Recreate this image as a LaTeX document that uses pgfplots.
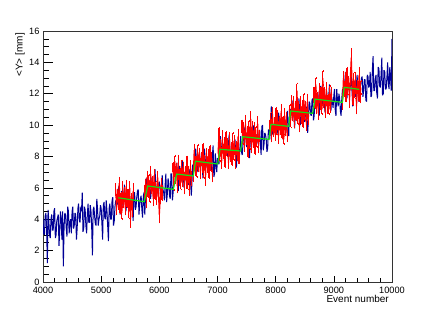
\documentclass[border=0pt]{standalone}
\usepackage{fontspec}
\setmainfont{Liberation Sans}
\usepackage{pgfplots}
\pgfplotsset{compat=1.18}
\definecolor{rootblue}{RGB}{0,0,150}
\definecolor{rootgreen}{RGB}{20,225,20}
\begin{document}
\begin{tikzpicture}
\path[use as bounding box] (0,0) rectangle (436bp,314bp);
\begin{axis}[
  at={(43bp,32bp)}, anchor=south west,
  scale only axis, width=349bp, height=251bp,
  xmin=4000, xmax=10000, ymin=0, ymax=16,
  xtick={4000,5000,...,10000}, ytick={0,2,...,16},
  minor x tick num=4, minor y tick num=3,
  tick align=inside, tick pos=left,
  x tick style={/pgfplots/major tick length=6bp,/pgfplots/minor tick length=3.5bp},
  y tick style={/pgfplots/major tick length=10bp,/pgfplots/minor tick length=5.5bp},
  tick style={black, line width=0.6bp},
  axis line style={black!80, line width=0.8bp},
  scaled x ticks=false,
  /pgf/number format/1000 sep={},
  /pgf/number format/assume math mode=true,
  ticklabel style={font=\fontsize{9.2bp}{10bp}\selectfont},
  xticklabel style={yshift=-1.2bp},
  xlabel={Event number},
  xlabel style={at={(axis description cs:1,0)}, anchor=north east, inner sep=0pt, yshift=-13bp, xshift=-3bp, font=\fontsize{10bp}{11bp}\selectfont},
  ylabel={<Y> [mm]},
  ylabel style={at={(axis description cs:-0.066,0.992)}, anchor=east, inner sep=0pt, font=\fontsize{10bp}{11bp}\selectfont},
  clip=true,
]
% blue series
\addplot[rootblue, line width=1.0bp, line join=bevel, mark=none] table[x=x,y=y] {
x y
4000 4.0
4012 3.1
4025 3.0
4037 4.2
4050 4.4
4062 3.4
4075 1.2
4087 4.6
4100 3.9
4112 3.0
4125 2.8
4137 4.0
4150 4.3
4162 3.3
4175 3.3
4187 4.5
4200 4.7
4212 2.8
4225 3.0
4237 3.9
4250 4.1
4262 4.3
4275 2.3
4287 3.2
4300 4.5
4312 4.0
4325 2.7
4337 4.5
4350 1.0
4362 3.5
4375 4.4
4387 4.3
4400 3.4
4412 2.9
4425 4.8
4437 4.5
4450 3.1
4462 3.8
4475 4.0
4487 3.1
4500 4.5
4512 4.8
4525 3.4
4537 3.6
4550 4.4
4562 4.3
4575 2.7
4587 3.4
4600 4.7
4612 5.0
4625 3.9
4637 3.8
4650 4.8
4662 4.5
4675 5.7
4687 3.2
4700 3.4
4712 4.8
4725 4.6
4737 3.6
4750 3.1
4762 4.3
4775 5.0
4787 3.8
4800 3.8
4812 4.9
4825 4.5
4837 3.5
4850 1.7
4862 4.6
4875 4.8
4887 4.2
4900 3.7
4912 3.6
4925 5.3
4937 4.7
4950 3.6
4962 4.0
4975 4.2
4987 4.9
5000 4.7
5012 3.8
5025 2.7
5037 4.9
5050 5.1
5062 4.1
5075 4.0
5087 5.2
5100 4.5
5112 3.6
5125 2.6
5137 4.7
5150 5.0
5162 4.0
5175 4.0
5187 5.2
5200 5.4
5212 3.6
5225 3.9
5237 4.8
5250 5.2
5275 4.9
5300 6.1
5325 4.3
5350 5.8
5375 4.8
5400 6.2
5425 4.5
5450 5.4
5475 5.9
5500 4.7
5525 5.6
5550 3.9
5562 5.7
5575 5.7
5587 4.6
5600 4.8
5612 5.4
5625 5.8
5637 5.9
5650 4.3
5662 4.9
5675 5.3
5687 5.5
5700 4.6
5712 4.1
5725 5.5
5737 5.7
5750 4.3
5775 6.6
5800 5.8
5825 6.4
5850 5.3
5875 6.7
5900 5.6
5925 7.2
5950 5.4
5975 6.0
6000 6.4
6025 5.4
6050 6.8
6062 5.9
6075 5.7
6087 5.2
6100 6.2
6112 6.9
6125 5.1
6137 5.6
6150 6.6
6162 6.3
6175 5.5
6187 5.3
6200 6.9
6212 6.9
6225 5.2
6237 5.7
6250 6.4
6275 6.3
6300 7.6
6325 5.8
6350 7.4
6375 6.4
6400 7.7
6425 6.0
6450 6.9
6475 7.4
6500 6.2
6525 7.2
6550 5.5
6575 7.5
6600 7.1
6625 8.5
6650 7.0
6675 7.9
6700 7.3
6725 8.2
6750 6.6
6775 8.5
6800 7.3
6825 7.9
6850 6.8
6875 8.2
6900 7.1
6912 8.1
6925 8.7
6937 6.7
6950 6.9
6962 8.2
6975 7.5
6987 7.0
7000 7.9
7025 7.5
7050 9.3
7075 8.2
7100 8.6
7125 7.5
7150 9.0
7175 8.0
7200 9.4
7225 7.7
7250 8.7
7275 8.2
7300 9.1
7325 7.3
7350 8.9
7375 7.9
7387 8.6
7400 9.3
7412 8.3
7425 8.1
7450 9.4
7475 9.9
7500 8.6
7525 9.6
7550 7.9
7575 9.9
7600 9.1
7625 10.0
7650 8.5
7675 9.4
7700 8.8
7712 9.4
7725 9.7
7737 8.8
7750 8.1
7762 9.9
7775 10.0
7787 8.4
7800 8.8
7812 9.5
7825 9.4
7837 9.1
7850 8.3
7862 8.5
7875 9.7
7887 9.7
7900 9.1
7925 11.2
7950 9.4
7975 10.0
8000 10.4
8025 9.4
8050 10.8
8075 9.7
8100 10.2
8125 9.1
8150 10.6
8175 9.5
8200 10.9
8212 9.7
8225 9.3
8237 11.0
8250 11.0
8275 10.7
8300 11.6
8325 9.8
8350 11.4
8375 10.4
8400 11.7
8425 10.0
8450 10.9
8475 11.4
8500 10.2
8525 11.2
8550 9.5
8562 10.3
8575 11.5
8587 11.4
8600 10.7
8612 10.6
8625 11.6
8637 11.7
8650 10.3
8662 10.6
8675 11.8
8700 11.3
8725 12.1
8750 10.6
8775 12.5
8800 11.3
8825 11.9
8850 10.8
8875 12.2
8900 11.1
8925 12.6
8950 10.9
8962 11.8
8975 11.5
8987 11.1
9000 11.9
9012 12.3
9025 10.9
9037 10.6
9050 12.3
9062 11.6
9075 11.2
9087 12.0
9100 11.7
9112 10.9
9125 10.6
9137 11.7
9150 12.3
9175 11.9
9200 13.4
9225 11.7
9250 12.7
9275 12.2
9300 13.1
9325 11.2
9350 12.8
9375 11.8
9400 13.2
9425 11.5
9450 12.4
9462 12.6
9475 13.0
9487 13.1
9500 11.8
9512 12.2
9525 12.9
9537 12.9
9550 11.6
9562 11.5
9575 13.2
9587 13.1
9600 12.4
9612 12.5
9625 13.4
9637 11.8
9650 11.9
9662 13.5
9675 14.4
9687 12.2
9700 12.2
9712 12.9
9725 13.2
9737 12.1
9750 11.7
9762 13.7
9775 13.6
9787 12.5
9800 12.4
9812 13.2
9825 14.3
9837 11.9
9850 12.0
9862 13.5
9875 13.4
9887 12.3
9900 12.3
9912 13.0
9925 14.0
9937 12.6
9950 12.3
9962 13.7
9975 13.1
9987 12.2
10000 15.5
};
% red blocks
\pgfplotsset{redblock/.style={red, line width=1.2bp, line join=bevel, mark=none,
  error bars/.cd, y dir=both, y explicit,
  error bar style={red, line width=1.15bp},
  error mark options={red, mark size=0.9bp, line width=0.45bp}}}
\addplot[redblock] table[x=x,y=y,y error=e] {
x y e
5250 5.9 0.35
5265 4.7 0.40
5280 5.6 0.30
5295 5.1 0.45
5310 6.3 0.35
5325 4.9 0.50
5340 5.4 0.30
5355 4.4 0.40
5370 5.9 0.45
5385 5.1 0.35
5400 5.7 0.30
5415 4.7 0.40
5430 6.1 0.35
5445 5.2 0.40
5460 5.6 0.30
5475 4.5 0.45
5490 6.0 0.35
5505 4.0 0.50
5520 5.3 0.30
5535 4.6 0.40
5550 5.8 0.45
};
\addplot[redblock] table[x=x,y=y,y error=e] {
x y e
5745 5.7 0.40
5760 6.2 0.30
5775 5.2 0.45
5790 6.7 0.35
5805 5.9 0.50
5820 6.5 0.30
5835 5.5 0.40
5850 6.9 0.45
5865 6.0 0.35
5880 6.4 0.30
5895 5.3 0.40
5910 6.8 0.35
5925 5.7 0.40
5940 6.1 0.30
5955 5.4 0.45
5970 6.7 0.35
5985 5.7 0.50
6000 4.3 0.50
6015 5.3 0.30
6030 6.2 0.40
6045 5.7 0.45
};
\addplot[redblock] table[x=x,y=y,y error=e] {
x y e
6235 7.3 0.30
6250 6.3 0.45
6265 7.7 0.35
6280 6.8 0.50
6295 7.2 0.30
6310 6.1 0.40
6325 7.6 0.45
6340 6.5 0.35
6355 6.9 0.30
6370 6.3 0.40
6385 7.4 0.35
6400 6.5 0.40
6415 7.3 0.30
6430 6.1 0.45
6445 7.0 0.35
6460 6.5 0.50
6475 7.7 0.30
6490 6.3 0.40
6505 6.9 0.45
6520 5.9 0.35
6535 7.4 0.30
6550 6.6 0.40
};
\addplot[redblock] table[x=x,y=y,y error=e] {
x y e
6585 6.9 0.45
6600 8.4 0.35
6615 7.3 0.50
6630 7.7 0.30
6645 7.1 0.40
6660 8.3 0.45
6675 7.4 0.35
6690 8.2 0.30
6705 7.0 0.40
6720 7.9 0.35
6735 7.4 0.40
6750 8.5 0.30
6765 7.1 0.45
6780 7.7 0.35
6795 6.7 0.50
6810 8.2 0.30
6825 7.4 0.40
6840 8.0 0.45
6855 7.0 0.35
6870 8.4 0.30
6885 7.5 0.40
6900 7.9 0.35
6915 6.8 0.40
};
\addplot[redblock] table[x=x,y=y,y error=e] {
x y e
7010 8.2 0.35
7025 9.4 0.40
7040 8.0 0.30
7055 8.6 0.45
7070 7.6 0.35
7085 9.1 0.50
7100 8.2 0.30
7115 8.8 0.40
7130 7.8 0.45
7145 9.2 0.35
7160 8.3 0.30
7175 8.7 0.40
7190 7.6 0.35
7205 9.1 0.40
7220 8.0 0.30
7235 8.4 0.45
7250 7.8 0.35
7265 9.0 0.50
7280 8.1 0.30
7295 8.9 0.40
7310 7.7 0.45
7325 8.6 0.35
7340 8.1 0.30
7355 9.3 0.40
7370 7.9 0.35
};
\addplot[redblock] table[x=x,y=y,y error=e] {
x y e
7420 9.9 0.40
7435 9.1 0.30
7450 9.7 0.45
7465 8.7 0.35
7480 10.1 0.50
7495 9.1 0.30
7510 9.5 0.40
7525 8.4 0.45
7540 9.9 0.35
7555 8.8 0.30
7570 10.4 0.45
7585 8.6 0.35
7600 9.8 0.40
7615 8.9 0.30
7630 9.7 0.45
7645 8.5 0.35
7660 9.4 0.50
7675 8.9 0.30
7690 10.1 0.40
7705 8.7 0.45
7720 9.3 0.35
};
\addplot[redblock] table[x=x,y=y,y error=e] {
x y e
7900 10.0 0.30
7915 10.4 0.40
7930 9.3 0.35
7945 10.7 0.40
7960 9.6 0.30
7975 10.0 0.45
7990 9.4 0.35
8005 10.6 0.50
8020 9.7 0.30
8035 10.5 0.40
8050 9.3 0.45
8065 10.2 0.35
8080 9.7 0.30
8095 10.9 0.40
8110 9.5 0.35
8125 10.1 0.40
8140 9.1 0.30
8155 10.6 0.45
8170 9.7 0.35
8185 10.3 0.50
8200 9.3 0.30
};
\addplot[redblock] table[x=x,y=y,y error=e] {
x y e
8245 10.9 0.40
8260 10.3 0.45
8275 11.5 0.35
8290 10.6 0.30
8305 11.4 0.40
8320 10.2 0.35
8335 11.1 0.40
8350 10.6 0.30
8365 12.2 0.45
8380 10.4 0.35
8395 11.0 0.50
8410 9.9 0.30
8425 11.4 0.40
8440 10.6 0.45
8455 11.2 0.35
8470 10.2 0.30
8485 11.6 0.40
8500 10.7 0.35
8515 11.1 0.40
8530 10.0 0.30
8545 11.5 0.45
8560 10.4 0.35
};
\addplot[redblock] table[x=x,y=y,y error=e] {
x y e
8660 11.9 0.50
8675 11.4 0.30
8690 12.6 0.40
8705 11.2 0.45
8720 11.7 0.35
8735 10.7 0.30
8750 12.2 0.40
8765 11.4 0.35
8780 12.0 0.40
8795 11.0 0.30
8810 13.0 0.45
8825 11.5 0.35
8840 11.9 0.50
8855 10.8 0.30
8870 12.3 0.40
8885 11.2 0.45
8900 11.6 0.35
8915 11.0 0.30
8930 12.1 0.40
8945 11.2 0.35
8960 12.0 0.40
};
\addplot[redblock] table[x=x,y=y,y error=e] {
x y e
9150 11.5 0.45
9165 13.0 0.40
9180 12.2 0.35
9195 12.8 0.50
9210 11.8 0.30
9225 13.2 0.45
9240 12.3 0.35
9255 12.7 0.40
9270 11.6 0.45
9285 13.1 0.50
9300 14.3 0.55
9315 12.4 0.35
9330 11.7 0.40
9345 12.9 0.45
9360 12.0 0.30
9375 12.8 0.50
9390 11.2 0.45
9405 12.5 0.35
9420 12.0 0.40
9435 13.2 0.45
9450 11.8 0.35
9465 12.4 0.40
};
% green fit
\addplot[rootgreen, line width=1.2bp, mark=none] coordinates {
(5294,5.37)(5741,5.12)(5800,6.12)(6240,5.91)(6298,6.88)(6584,6.76)
(6621,7.70)(7003,7.52)(7043,8.46)(7398,8.35)(7433,9.26)(7885,9.09)
(7919,10.05)(8224,9.92)(8258,10.90)(8636,10.75)(8676,11.66)(9145,11.45)
(9179,12.41)(9437,12.28)
};
\end{axis}
\end{tikzpicture}
\end{document}
